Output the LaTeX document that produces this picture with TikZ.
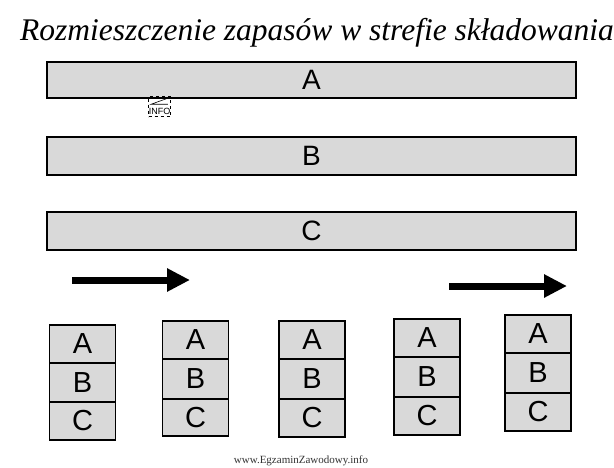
\documentclass[tikz,border=0pt]{standalone}
\usepackage{fontspec}
\setmainfont{Liberation Serif}
\newfontfamily\lsans{Liberation Sans}
\usetikzlibrary{arrows.meta}
\definecolor{boxgray}{RGB}{217,217,217}
\tikzset{
  bar/.style={draw=black, line width=1.8pt, fill=boxgray, inner sep=0pt,
    font=\lsans\fontsize{28}{28}\selectfont},
  cell/.style={draw=black, line width=1.4pt, fill=boxgray, inner sep=0pt,
    font=\lsans\fontsize{29}{29}\selectfont},
  bigarrow/.style={line width=7pt, -{Triangle[width=22pt,length=23pt]}},
}
\begin{document}
\begin{tikzpicture}[x=1pt,y=-1pt]
\useasboundingbox (0,0) rectangle (614,467);
% title
\node[anchor=base, inner sep=0pt, font=\itshape\fontsize{31.5}{31.5}\selectfont] (title) at (317,40) {Rozmieszczenie zapasów w strefie składowania};
% bars
\node[bar, minimum width=529pt, minimum height=36pt] (barA) at (311.5,80) {A};
\node[bar, minimum width=529pt, minimum height=38pt] (barB) at (311.5,156) {B};
\node[bar, minimum width=529pt, minimum height=38pt] (barC) at (311.5,231) {C};
% broken image icon
\node[draw, dashed, line width=0.6pt, minimum width=22pt, minimum height=20pt, inner sep=0pt] (icon) at (159.5,106.5) {};
\node[inner sep=0pt, font=\lsans\fontsize{9}{9}\selectfont] (icontext) at (159.5,111.5) {INFO};
\draw[line width=0.6pt] ([shift={(3pt,-2pt)}]icon.north west) -- ([shift={(-3pt,-2pt)}]icon.north east) -- ([shift={(3pt,-8pt)}]icon.north west) -- ([shift={(-3pt,-8pt)}]icon.north east);
% arrows
\coordinate (a1s) at (72,280);
\coordinate (a1e) at (190,280);
\coordinate (a2s) at (449,286);
\coordinate (a2e) at (567,286);
\draw[bigarrow] (a1s) -- (a1e);
\draw[bigarrow] (a2s) -- (a2e);
% stacks: number/center x/width/top/divider1/divider2/bottom
\foreach \n/\cx/\w/\t/\da/\db/\b in {1/82.5/66/325/363/402/440, 2/195.5/66/321/359/399/436, 3/312/66/321/359/399/437, 4/427/66/319/357/397/435, 5/538/66/315/353/393/431}{
  \node[cell, minimum width=\w pt, minimum height={(\da-\t)*1pt}] (s\n a) at (\cx,{(\t+\da)/2}) {A};
  \node[cell, minimum width=\w pt, minimum height={(\db-\da)*1pt}] (s\n b) at (\cx,{(\da+\db)/2}) {B};
  \node[cell, minimum width=\w pt, minimum height={(\b-\db)*1pt}] (s\n c) at (\cx,{(\db+\b)/2}) {C};
}
% watermark
\node[inner sep=0pt, font=\fontsize{11}{11}\selectfont, text=black!80] (wm) at (301,461) {www.EgzaminZawodowy.info};
\end{tikzpicture}
\end{document}
